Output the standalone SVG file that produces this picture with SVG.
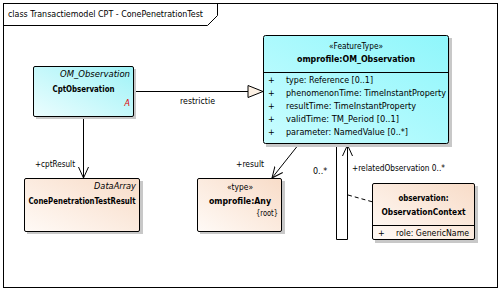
<svg xmlns="http://www.w3.org/2000/svg" width="502" height="293" viewBox="0 0 502 293">
<defs>
<linearGradient id="gc" x1="1" y1="0" x2="0" y2="1">
<stop offset="0" stop-color="#9ff3f7"/>
<stop offset="1" stop-color="#ecfdfe"/>
</linearGradient>
<linearGradient id="gc2" x1="1" y1="0" x2="0" y2="1">
<stop offset="0" stop-color="#8ff6fb"/>
<stop offset="1" stop-color="#c9fdff"/>
</linearGradient>
<linearGradient id="gp" x1="1" y1="0" x2="0" y2="1">
<stop offset="0" stop-color="#f8dcc8"/>
<stop offset="1" stop-color="#fffaf6"/>
</linearGradient>
<marker id="open" markerWidth="12" markerHeight="12" refX="11" refY="6" orient="auto" markerUnits="userSpaceOnUse">
<path d="M0,1 L11,6 L0,11" fill="none" stroke="#000" stroke-width="1"/>
</marker>
<marker id="tri" markerWidth="17" markerHeight="14" refX="16" refY="7" orient="auto" markerUnits="userSpaceOnUse">
<path d="M1,1 L16,7 L1,13 Z" fill="#fdf1e4" stroke="#000" stroke-width="1"/>
</marker>
</defs>
<style>
text{font-family:"DejaVu Sans","Liberation Sans",sans-serif;font-size:8px;fill:#000}
.b{font-weight:bold}
.i{font-style:italic}
.m{text-anchor:middle}
.r{text-anchor:end}
.box{stroke:#000;stroke-width:1}
.sh{fill:#c8c8c8}
.ln{fill:none;stroke:#000;stroke-width:1}
</style>
<g id="frame">
<rect x="3.5" y="3.5" width="494" height="284" fill="#fff" stroke="#000"/>
<path d="M3.5,25.5 H207.5 L217.5,15.5 V3.5" fill="none" stroke="#000"/>
<text x="8" y="17" textLength="195" lengthAdjust="spacingAndGlyphs">class Transactiemodel CPT - ConePenetrationTest</text>
</g>
<g id="connectors">
<path class="ln" d="M134,91.5 H263" marker-end="url(#tri)"/>
<text x="180" y="104" textLength="35" lengthAdjust="spacingAndGlyphs">restrictie</text>
<path class="ln" d="M83.5,117 V178" marker-end="url(#open)"/>
<text x="35" y="167" textLength="40" lengthAdjust="spacingAndGlyphs">+cptResult</text>
<path class="ln" d="M299,144 L272,178" marker-end="url(#open)"/>
<text x="236" y="167" textLength="28" lengthAdjust="spacingAndGlyphs">+result</text>
<text x="313" y="174">0..*</text>
<path class="ln" d="M336.5,144 V239.5 H347.5 V145" marker-end="url(#open)"/>
<text x="352" y="171" textLength="93" lengthAdjust="spacingAndGlyphs">+relatedObservation 0..*</text>
<path class="ln" d="M348,195 L373,202" stroke-dasharray="4,3"/>
</g>
<g id="CptObservation">
<rect class="sh" x="36" y="69" width="100" height="50"/>
<rect class="box" x="33.5" y="66.5" width="100" height="50" fill="url(#gc)" rx="1.5"/>
<text class="i r" x="130" y="77" textLength="70" lengthAdjust="spacingAndGlyphs">OM_Observation</text>
<text class="b m" x="83.5" y="92" textLength="62" lengthAdjust="spacingAndGlyphs">CptObservation</text>
<text class="r i" x="130" y="106" style="fill:#e00000">A</text>
</g>
<g id="OM_Observation">
<rect class="sh" x="266" y="38" width="186" height="109"/>
<rect class="box" x="263.5" y="35.5" width="185" height="108" fill="url(#gc2)" rx="2"/>
<line x1="263.5" y1="72.5" x2="448.5" y2="72.5" stroke="#000"/>
<text class="m" x="356" y="49" textLength="54" lengthAdjust="spacingAndGlyphs">«FeatureType»</text>
<text class="b m" x="356" y="62" textLength="118" lengthAdjust="spacingAndGlyphs">omprofile:OM_Observation</text>
<text x="268" y="83">+</text><text x="286" y="83" textLength="87" lengthAdjust="spacingAndGlyphs">type: Reference [0..1]</text>
<text x="268" y="96">+</text><text x="286" y="96" textLength="160" lengthAdjust="spacingAndGlyphs">phenomenonTime: TimeInstantProperty</text>
<text x="268" y="109">+</text><text x="286" y="109" textLength="130" lengthAdjust="spacingAndGlyphs">resultTime: TimeInstantProperty</text>
<text x="268" y="122">+</text><text x="286" y="122" textLength="113" lengthAdjust="spacingAndGlyphs">validTime: TM_Period [0..1]</text>
<text x="268" y="135">+</text><text x="286" y="135" textLength="122" lengthAdjust="spacingAndGlyphs">parameter: NamedValue [0..*]</text>
</g>
<g id="ConePenetrationTestResult">
<rect class="sh" x="27" y="181" width="116" height="53"/>
<rect class="box" x="24.5" y="178.5" width="115" height="53" fill="url(#gp)" rx="1.5"/>
<text class="i r" x="136" y="189" textLength="42" lengthAdjust="spacingAndGlyphs">DataArray</text>
<text class="b m" x="82" y="204" textLength="107" lengthAdjust="spacingAndGlyphs">ConePenetrationTestResult</text>
</g>
<g id="Any">
<rect class="sh" x="200" y="181" width="85" height="53"/>
<rect class="box" x="197.5" y="178.5" width="84" height="53" fill="url(#gp)" rx="1.5"/>
<text class="m" x="240" y="190" textLength="26" lengthAdjust="spacingAndGlyphs">«type»</text>
<text class="b m" x="240" y="204" textLength="62" lengthAdjust="spacingAndGlyphs">omprofile:Any</text>
<text class="r" x="278" y="216" textLength="22" lengthAdjust="spacingAndGlyphs">{root}</text>
</g>
<g id="ObservationContext">
<rect class="sh" x="375" y="186" width="103" height="57"/>
<rect class="box" x="372.5" y="183.5" width="102" height="56" fill="url(#gp)" rx="1.5"/>
<line x1="372.5" y1="225.5" x2="474.5" y2="225.5" stroke="#000"/>
<text class="b m" x="423.5" y="201" textLength="50" lengthAdjust="spacingAndGlyphs">observation:</text>
<text class="b m" x="423.5" y="215" textLength="84" lengthAdjust="spacingAndGlyphs">ObservationContext</text>
<text x="378" y="236">+</text><text x="396" y="236" textLength="73" lengthAdjust="spacingAndGlyphs">role: GenericName</text>
</g>
</svg>
